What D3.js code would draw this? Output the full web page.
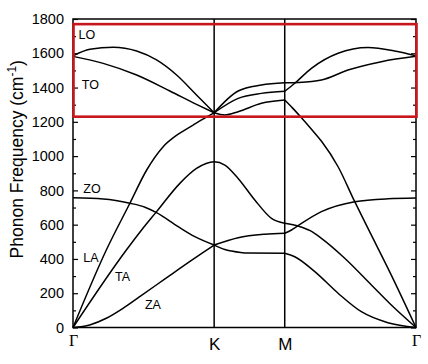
<!DOCTYPE html>
<html>
<head>
<meta charset="utf-8">
<script src="https://cdn.jsdelivr.net/npm/d3@7"></script>
<style>
    body { margin: 0; background: #fff; }
    svg { display: block; font-family: "Liberation Sans", Arial, sans-serif; }
</style>
</head>
<body>
<div id="chart"></div>
<script>
// high symmetry path, distance along the path with |ΓK| = 1
const symK = [0, 1, 1.5, 2.43];
const symLabels = ['Γ', 'K', 'M', 'Γ'];

const yMajor = [0, 200, 400, 600, 800, 1000, 1200, 1400, 1600, 1800];
const yMinor = [100, 300, 500, 700, 900, 1100, 1300, 1500, 1700];

// phonon branches: [k, frequency cm-1]
const za = [[0, 0], [0.118, 15], [0.236, 54], [0.354, 112], [0.472, 180], [0.59, 248], [0.708, 316], [0.826, 384], [0.92, 437], [1, 481],
    [1.076, 455], [1.123, 446], [1.241, 434], [1.5, 433],
    [1.571, 413], [1.713, 326], [1.878, 200], [2.043, 92], [2.231, 28], [2.43, 0]];
const ta = [[0, 0], [0.378, 452], [0.486, 569], [0.592, 676], [0.757, 841], [0.875, 928], [1, 967],
    [1.076, 948], [1.17, 870], [1.288, 744], [1.406, 637], [1.5, 608],
    [1.6, 590], [1.68, 565], [1.76, 520], [1.925, 404], [2.114, 248], [2.255, 131], [2.43, 0]];
const la = [[0, 0], [0.236, 452], [0.403, 725], [0.522, 919], [0.639, 1055], [0.74, 1125], [0.851, 1181], [0.911, 1211], [1, 1253],
    [1.076, 1240], [1.17, 1259], [1.335, 1308], [1.5, 1327],
    [1.556, 1280], [1.62, 1222], [1.691, 1155], [1.762, 1085], [1.878, 938], [1.996, 734], [2.09, 578], [2.255, 306], [2.43, 0]];
const zo = [[0, 757], [0.214, 750], [0.403, 725], [0.51, 702], [0.592, 670], [0.745, 588], [0.863, 530], [1, 481],
    [1.17, 524], [1.359, 544], [1.5, 550],
    [1.548, 569], [1.594, 594], [1.76, 676], [1.996, 734], [2.231, 751], [2.43, 755]];
const to = [[0, 1582], [0.214, 1541], [0.451, 1473], [0.686, 1380], [0.875, 1302], [1, 1253],
    [1.17, 1380], [1.335, 1415], [1.5, 1428],
    [1.6, 1430], [1.76, 1444], [1.948, 1502], [2.185, 1551], [2.43, 1582]];
const lo = [[0, 1585], [0.12, 1623], [0.285, 1635], [0.451, 1613], [0.592, 1561], [0.734, 1473], [0.875, 1357], [1, 1253],
    [1.17, 1337], [1.335, 1366], [1.5, 1378],
    [1.571, 1425], [1.689, 1512], [1.878, 1600], [2.09, 1633], [2.279, 1613], [2.43, 1585]];

const branches = [
    { id: 'ZA', data: za, smooth: [] },
    { id: 'TA', data: ta, smooth: [1] }, // TA has a rounded top at K
    { id: 'LA', data: la, smooth: [] },
    { id: 'ZO', data: zo, smooth: [] },
    { id: 'TO', data: to, smooth: [] },
    { id: 'LO', data: lo, smooth: [] }
];

// branch names, placed at [k, frequency]
const branchNames = ['LO', 'TO', 'ZO', 'LA', 'TA', 'ZA'];
const namePos = [[0.039, 1683], [0.062, 1392], [0.073, 786], [0.073, 384], [0.297, 271], [0.51, 108]];

// highlighted band
const boxRange = [1230, 1770];

const width = 428;
const height = 364;
const margin = [19, 12, 36.5, 73]; // top, right, bottom, left

const svg = d3.select('#chart')
    .append('svg')
    .attr('width', width)
    .attr('height', height);

const x = d3.scaleLinear()
    .domain([symK[0], symK[symK.length - 1]])
    .range([margin[3], width - margin[1]]);

const y = d3.scaleLinear()
    .domain([0, 1800])
    .range([height - margin[2], margin[0]]);

// split a branch at the symmetry points so the cones stay sharp
function segments(b) {
    const cuts = symK.filter(k => !b.smooth.includes(k));
    const out = [];
    for (let i = 0; i < cuts.length - 1; i++) {
        out.push(b.data.filter(d => d[0] >= cuts[i] - 1e-9 && d[0] <= cuts[i + 1] + 1e-9));
    }
    return out;
}

const line = d3.line()
    .x(d => x(d[0]))
    .y(d => y(d[1]))
    .curve(d3.curveMonotoneX);

const plot = svg.append('g');

plot.selectAll('.branch')
    .data(branches.flatMap(b => segments(b).map(s => ({ id: b.id, pts: s }))))
    .join('path')
    .attr('class', 'branch')
    .attr('fill', 'none')
    .attr('stroke', '#000')
    .attr('stroke-width', 1.5)
    .attr('d', d => line(d.pts));

// vertical lines at K and M
plot.selectAll('.sym')
    .data(symK.slice(1, -1))
    .join('line')
    .attr('class', 'sym')
    .attr('x1', d => x(d))
    .attr('x2', d => x(d))
    .attr('y1', y(0))
    .attr('y2', y(1800))
    .attr('stroke', '#000')
    .attr('stroke-width', 1.5);

// axes
const axisL = svg.append('g')
    .attr('transform', `translate(${x(0)}, 0)`)
    .call(d3.axisLeft(y).tickValues(yMajor).tickSizeInner(-5).tickSizeOuter(0).tickPadding(9).tickFormat(d3.format('d')));
svg.append('g')
    .attr('transform', `translate(${x(0)}, 0)`)
    .call(d3.axisLeft(y).tickValues(yMinor).tickSizeInner(-3).tickSizeOuter(0).tickFormat(''));
svg.append('g')
    .attr('transform', `translate(${x(symK[3])}, 0)`)
    .call(d3.axisRight(y).tickValues(yMajor).tickSizeInner(-5).tickSizeOuter(0).tickFormat(''));
svg.append('g')
    .attr('transform', `translate(${x(symK[3])}, 0)`)
    .call(d3.axisRight(y).tickValues(yMinor).tickSizeInner(-3).tickSizeOuter(0).tickFormat(''));

axisL.selectAll('text')
    .attr('font-family', '"Liberation Sans", Arial, sans-serif')
    .attr('font-size', 14.5)
    .attr('fill', '#000');

const axisB = svg.append('g')
    .attr('transform', `translate(0, ${y(0)})`)
    .call(d3.axisBottom(x).tickValues(symK).tickSize(0).tickPadding(10).tickFormat((d, i) => symLabels[i]));

axisB.selectAll('text')
    .attr('font-family', (d, i) => symLabels[i] === 'Γ' ? '"Liberation Serif", serif' : '"Liberation Sans", Arial, sans-serif')
    .attr('font-size', (d, i) => symLabels[i] === 'Γ' ? 16 : 17)
    .attr('y', (d, i) => symLabels[i] === 'Γ' ? 7 : 10)
    .attr('fill', '#000');

svg.selectAll('.domain').remove();
svg.selectAll('.tick line').attr('stroke', '#000').attr('stroke-width', 1.2);

// frame
svg.append('rect')
    .attr('x', x(0))
    .attr('y', y(1800))
    .attr('width', x(symK[3]) - x(0))
    .attr('height', y(0) - y(1800))
    .attr('fill', 'none')
    .attr('stroke', '#000')
    .attr('stroke-width', 1.5);

// branch names
svg.selectAll('.name')
    .data(branchNames)
    .join('text')
    .attr('class', 'name')
    .attr('x', (d, i) => x(namePos[i][0]))
    .attr('y', (d, i) => y(namePos[i][1]))
    .attr('font-size', 12.5)
    .text(d => d);

// red box
svg.append('rect')
    .attr('x', x(0) + 0.5)
    .attr('y', y(boxRange[1]))
    .attr('width', x(symK[3]) - x(0))
    .attr('height', y(boxRange[0]) - y(boxRange[1]))
    .attr('fill', 'none')
    .attr('stroke', '#c8161d')
    .attr('stroke-width', 2.6);

// y title
const title = svg.append('text')
    .attr('transform', `translate(23, ${(y(0) + y(1800)) / 2 - 14}) rotate(-90)`)
    .attr('text-anchor', 'middle')
    .attr('font-size', 17.5)
    .text('Phonon Frequency (cm');
title.append('tspan')
    .attr('dy', -7)
    .attr('font-size', 12)
    .text('-1');
title.append('tspan')
    .attr('dy', 7)
    .text(')');
</script>
</body>
</html>
